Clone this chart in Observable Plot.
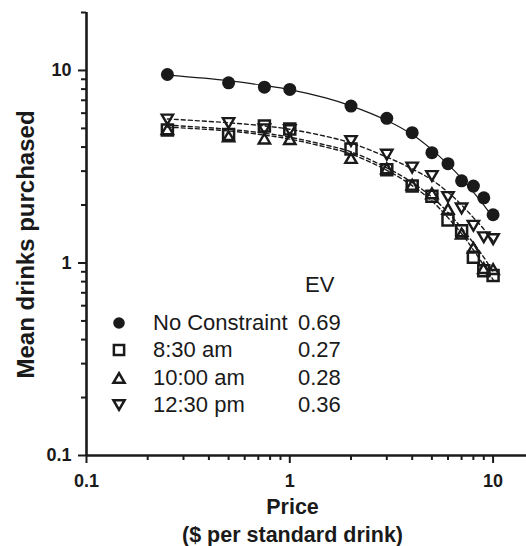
<!DOCTYPE html>
<html><head><meta charset="utf-8">
<script src="https://cdn.jsdelivr.net/npm/d3@7"></script>
<script src="https://cdn.jsdelivr.net/npm/@observablehq/plot@0.6"></script>
<style>
html,body{margin:0;padding:0;background:#fff;}
#chart{position:relative;width:526px;height:546px;font-family:"Liberation Sans",Arial,Helvetica,sans-serif;color:#1a1a1a;}
#chart svg{display:block;}
.lg{position:absolute;font-size:22px;line-height:22px;white-space:nowrap;}
#legsym{position:absolute;left:0;top:0;}
</style></head><body><div id="chart"></div>
<script>
// ---- data ----
const prices = [0.25, 0.5, 0.75, 1, 2, 3, 4, 5, 6, 7, 8, 9, 10];
const noConstraint = [9.53, 8.62, 8.19, 7.97, 6.53, 5.64, 4.75, 3.74, 3.28, 2.67, 2.51, 2.18, 1.78];
const am830  = [4.9, 4.65, 5.14, 4.96, 3.91, 3.05, 2.51, 2.22, 1.67, 1.47, 1.07, 0.91, 0.86];
const am1000 = [4.95, 4.55, 4.43, 4.4, 3.51, 3.1, 2.55, 2.3, 1.91, 1.42, 1.2, 0.94, 0.93];
const pm1230 = [5.56, 5.33, 4.95, 4.9, 4.3, 3.65, 3.13, 2.83, 2.2, 1.92, 1.56, 1.36, 1.33];

// fitted demand curves
const curvePrices = [0.25, 0.5, 0.75, 1, 1.5, 2, 3, 4, 5, 6, 7, 8, 9, 10];
const fitNoConstraint = [9.45, 8.85, 8.35, 7.95, 7.2, 6.55, 5.5, 4.65, 3.88, 3.25, 2.75, 2.33, 2.0, 1.72];
const fit830  = [5.08, 4.85, 4.62, 4.4, 4.0, 3.68, 3.03, 2.52, 2.1, 1.72, 1.42, 1.17, 0.97, 0.82];
const fit1000 = [5.2, 4.95, 4.72, 4.5, 4.1, 3.78, 3.12, 2.62, 2.2, 1.83, 1.52, 1.27, 1.07, 0.9];
const fit1230 = [5.6, 5.35, 5.15, 4.95, 4.55, 4.2, 3.55, 3.08, 2.7, 2.33, 2.0, 1.72, 1.5, 1.3];

const seriesNames = ["No Constraint", "8:30 am", "10:00 am", "12:30 pm"];
const evValues = ["0.69", "0.27", "0.28", "0.36"];
const evHeader = "EV";

const xMajor = [0.1, 1, 10];
const xMinor = [0.2, 0.3, 0.4, 0.5, 0.6, 0.7, 0.8, 0.9, 2, 3, 4, 5, 6, 7, 8, 9];
const xTickLabels = ["0.1", "1", "10"];
const yMajor = [0.1, 1, 10];
const yMinor = [0.2, 0.3, 0.4, 0.5, 0.6, 0.7, 0.8, 0.9, 2, 3, 4, 5, 6, 7, 8, 9, 20];
const yTickLabels = ["0.1", "1", "10"];
const xTitle1 = "Price";
const xTitle2 = "($ per standard drink)";
const yTitle = "Mean drinks purchased";

// ---- build tables ----
const pts = (vals) => prices.map((p, i) => ({price: p, value: vals[i]}));
const fit = (vals) => curvePrices.map((p, i) => ({price: p, value: vals[i]}));

const triUp = {draw(ctx, size) {
  const s = Math.sqrt(size) * 1.0, h = s * Math.sqrt(3) / 2;
  ctx.moveTo(0, -h / 2); ctx.lineTo(s / 2, h / 2); ctx.lineTo(-s / 2, h / 2); ctx.closePath();
}};
const triDown = {draw(ctx, size) {
  const s = Math.sqrt(size) * 1.0, h = s * Math.sqrt(3) / 2;
  ctx.moveTo(0, h / 2); ctx.lineTo(s / 2, -h / 2); ctx.lineTo(-s / 2, -h / 2); ctx.closePath();
}};

const font = '"Liberation Sans", Arial, Helvetica, sans-serif';
const ink = "#1a1a1a";
const fmt = (labels, ticks) => d => labels[ticks.indexOf(d)];

const chart = Plot.plot({
  width: 526, height: 546,
  marginLeft: 86, marginRight: 0, marginTop: 12, marginBottom: 91,
  style: {fontFamily: font, color: ink, background: "white", overflow: "visible"},
  x: {type: "log", domain: [0.1, 14.6], label: null},
  y: {type: "log", domain: [0.1, 20], label: null},
  marks: [
    Plot.line(fit(fitNoConstraint), {x: "price", y: "value", curve: "catmull-rom", stroke: ink, strokeWidth: 1.2}),
    Plot.line(fit(fit830), {x: "price", y: "value", curve: "catmull-rom", stroke: ink, strokeWidth: 1.4, strokeDasharray: "4,3"}),
    Plot.line(fit(fit1000), {x: "price", y: "value", curve: "catmull-rom", stroke: ink, strokeWidth: 1.4, strokeDasharray: "4,3"}),
    Plot.line(fit(fit1230), {x: "price", y: "value", curve: "catmull-rom", stroke: ink, strokeWidth: 1.4, strokeDasharray: "4,3"}),
    Plot.dot(pts(am830), {x: "price", y: "value", symbol: "square", r: 6.2, fill: "none", stroke: ink, strokeWidth: 2.5}),
    Plot.dot(pts(am1000), {x: "price", y: "value", symbol: triUp, r: 6.4, fill: "none", stroke: ink, strokeWidth: 2.4, strokeLinejoin: "miter"}),
    Plot.dot(pts(pm1230), {x: "price", y: "value", symbol: triDown, r: 6.4, fill: "none", stroke: ink, strokeWidth: 2.4, strokeLinejoin: "miter"}),
    Plot.dot(pts(noConstraint), {x: "price", y: "value", r: 6.5, fill: ink, stroke: "none"}),
    // axes
    Plot.axisY(yMinor, {anchor: "left", tickSize: 5, strokeWidth: 2, fill: "none", tickFormat: () => "", label: null}),
    Plot.axisY(yMajor, {anchor: "left", tickSize: 8, strokeWidth: 2, tickPadding: 7, tickFormat: fmt(yTickLabels, yMajor), fontSize: 18, fontWeight: "bold", label: null}),
    Plot.axisX(xMinor, {anchor: "bottom", tickSize: 5, strokeWidth: 2, fill: "none", tickFormat: () => "", label: null}),
    Plot.axisX(xMajor, {anchor: "bottom", tickSize: 8, strokeWidth: 2, tickPadding: 11, tickFormat: fmt(xTickLabels, xMajor), fontSize: 18, fontWeight: "bold", label: null}),
    Plot.ruleX([0.1], {stroke: ink, strokeWidth: 2.6}),
    Plot.ruleY([0.1], {stroke: ink, strokeWidth: 2.6}),
    // titles
    Plot.text([xTitle1], {text: d => d, frameAnchor: "bottom", textAnchor: "middle", lineAnchor: "middle", dx: -14, dy: 52, fontSize: 21.5, fontWeight: "bold", fill: ink}),
    Plot.text([xTitle2], {text: d => d, frameAnchor: "bottom", textAnchor: "middle", lineAnchor: "middle", dx: -14, dy: 80, fontSize: 21.5, fontWeight: "bold", fill: ink}),
    Plot.text([yTitle], {text: d => d, frameAnchor: "left", textAnchor: "middle", lineAnchor: "middle", rotate: -90, dx: -60, dy: 10.5, fontSize: 24, fontWeight: "bold", fill: ink})
  ]
});

const root = document.getElementById("chart");
root.appendChild(chart);

// ---- legend overlay (layout only) ----
const rowY = [323, 350, 378, 405];
const symX = 119, labelX = 153, valueX = 298;
const ns = "http://www.w3.org/2000/svg";
const lsvg = document.createElementNS(ns, "svg");
lsvg.setAttribute("id", "legsym");
lsvg.setAttribute("width", 526); lsvg.setAttribute("height", 546);
const legendSymbols = [d3.symbolCircle, d3.symbolSquare, triUp, triDown];
const legendSizes = [105, 105, 125, 125];
legendSymbols.forEach((sym, i) => {
  const p = document.createElementNS(ns, "path");
  p.setAttribute("d", d3.symbol(sym, legendSizes[i])());
  p.setAttribute("transform", `translate(${symX},${rowY[i]})`);
  if (i === 0) { p.setAttribute("fill", ink); }
  else { p.setAttribute("fill", "none"); p.setAttribute("stroke", ink); p.setAttribute("stroke-width", 2.5); p.setAttribute("stroke-linejoin", "miter"); }
  lsvg.appendChild(p);
});
root.appendChild(lsvg);

function addText(txt, x, yCenter) {
  const d = document.createElement("div");
  d.className = "lg";
  d.textContent = txt;
  d.style.left = x + "px";
  d.style.top = (yCenter - 11) + "px";
  root.appendChild(d);
}
addText(evHeader, 305, 285);
seriesNames.forEach((n, i) => {
  addText(n, labelX, rowY[i]);
  addText(evValues[i], valueX, rowY[i]);
});
</script></body></html>
